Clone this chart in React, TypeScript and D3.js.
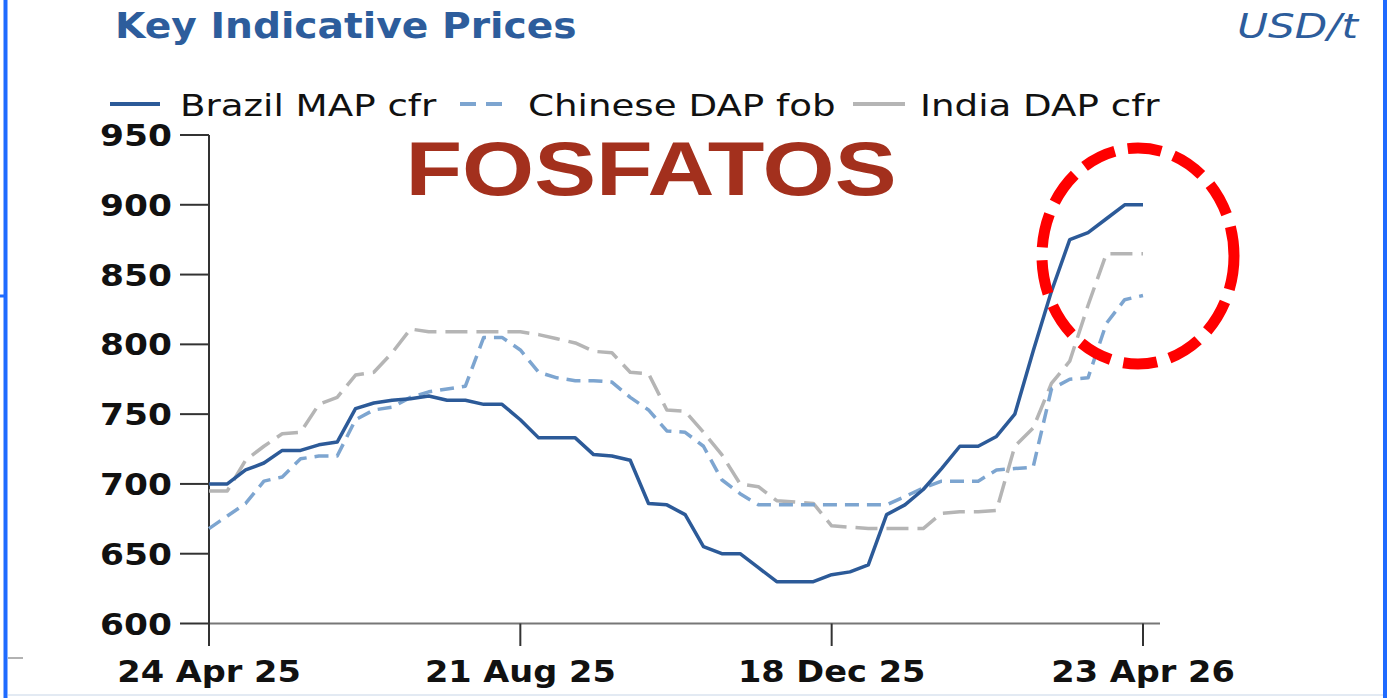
import React from "react";
import * as d3 from "d3";

const brazilMAP = [700, 700, 710, 715, 724, 724, 728, 730, 754, 758, 760, 761, 763, 760, 760, 757, 757, 746, 733, 733, 733, 721, 720, 717, 686, 685, 678, 655, 650, 650, 640, 630, 630, 630, 635, 637, 642, 678, 685, 696, 711, 727, 727, 734, 750, 795, 838, 875, 880, 890, 900, 900];
const chineseDAP = [668, 677, 686, 702, 705, 718, 720, 720, 746, 753, 755, 762, 766, 768, 770, 805, 805, 796, 780, 776, 774, 774, 773, 762, 753, 738, 737, 727, 703, 693, 685, 685, 685, 685, 685, 685, 685, 685, 691, 697, 702, 702, 702, 710, 711, 712, 768, 775, 776, 815, 832, 835];
const indiaDAP = [695, 695, 717, 727, 736, 737, 757, 762, 778, 780, 794, 811, 809, 809, 809, 809, 809, 809, 807, 804, 801, 795, 794, 780, 779, 753, 752, 737, 721, 700, 698, 688, 687, 686, 670, 669, 668, 668, 668, 668, 679, 680, 680, 681, 727, 740, 772, 788, 828, 865, 865, 865];

const xTickIndex = [0, 17, 34, 51];
const xTickLabels = ["24 Apr 25", "21 Aug 25", "18 Dec 25", "23 Apr 26"];
const yTicks = [600, 650, 700, 750, 800, 850, 900, 950];
const seriesNames = ["Brazil MAP cfr", "Chinese DAP fob", "India DAP cfr"];

const W = 1389;
const H = 698;
const FONT = "'DejaVu Sans', Verdana, sans-serif";

function SText(props: any) {
  const { x, y, sx = 1, children, ...rest } = props;
  return (
    <text transform={`translate(${x},${y}) scale(${sx},1)`} fontFamily={FONT} {...rest}>
      {children}
    </text>
  );
}

export default function App() {
  const x = d3.scaleLinear().domain([0, brazilMAP.length - 1]).range([209, 1143]);
  const y = d3.scaleLinear().domain([600, 950]).range([623.5, 135]);
  const line = d3
    .line<number>()
    .x((_, i) => x(i))
    .y((d) => y(d))
    .curve(d3.curveLinear);

  const series = [
    { name: seriesNames[2], data: indiaDAP, color: "#b5b5b5", dash: "22 9" },
    { name: seriesNames[1], data: chineseDAP, color: "#7da5d0", dash: "14 8" },
    { name: seriesNames[0], data: brazilMAP, color: "#2c5a98", dash: "" },
  ];

  const legend = [
    { name: seriesNames[0], color: "#2c5a98", dash: "", x0: 110, x1: 160, tx: 180 },
    { name: seriesNames[1], color: "#7da5d0", dash: "16 10", x0: 460, x1: 510, tx: 528 },
    { name: seriesNames[2], color: "#b5b5b5", dash: "", x0: 853, x1: 905, tx: 920 },
  ];

  return (
    <svg
      width={W}
      height={H}
      style={{ position: "absolute", left: 0, top: 0, display: "block", background: "#fff" }}
    >
      <rect x={0} y={0} width={W} height={H} fill="#fff" />
      {/* frame decorations */}
      <line x1={5.5} y1={0} x2={5.5} y2={H} stroke="#1f6bff" strokeWidth={4} />
      <line x1={1385} y1={0} x2={1385} y2={H} stroke="#1f6bff" strokeWidth={4} />
      <line x1={0} y1={296} x2={6} y2={296} stroke="#1f6bff" strokeWidth={3} />
      <line x1={8} y1={658} x2={23} y2={658} stroke="#999" strokeWidth={1.5} />
      <line x1={8} y1={695} x2={1383} y2={695} stroke="#e3eaf3" strokeWidth={2} />

      {/* title */}
      <SText x={115} y={38} sx={1.12} fontSize={35} fontWeight="bold" fill="#2d5d9c">
        Key Indicative Prices
      </SText>
      <SText x={1358} y={38} sx={1.24} fontSize={34} fontStyle="italic" fill="#2d5d9c" textAnchor="end">
        USD/t
      </SText>

      {/* legend */}
      {legend.map((l) => (
        <g key={l.name}>
          <line x1={l.x0} y1={104} x2={l.x1} y2={104} stroke={l.color} strokeWidth={4} strokeDasharray={l.dash} />
          <SText x={l.tx} y={116} sx={1.2} fontSize={31} fill="#111">
            {l.name}
          </SText>
        </g>
      ))}

      {/* FOSFATOS */}
      <text
        transform={`translate(651,195) scale(1.22,1)`}
        textAnchor="middle"
        fontFamily="'Liberation Sans', Arial, sans-serif"
        fontWeight="bold"
        fontSize={76}
        fill="#a3301d"
      >
        FOSFATOS
      </text>

      {/* axes */}
      <line x1={209} y1={y(600)} x2={1160} y2={y(600)} stroke="#777" strokeWidth={2} />
      <line x1={209} y1={y(950)} x2={209} y2={646} stroke="#333" strokeWidth={2} />
      {yTicks.map((t) => (
        <g key={t}>
          <line x1={180} y1={y(t)} x2={209} y2={y(t)} stroke="#333" strokeWidth={2} />
          <SText x={172} y={y(t) + 11} sx={1.13} fontSize={30.5} fontWeight="bold" fill="#111" textAnchor="end">
            {String(t)}
          </SText>
        </g>
      ))}
      {xTickIndex.map((t, i) => (
        <g key={t}>
          <line x1={x(t)} y1={y(600)} x2={x(t)} y2={646} stroke="#333" strokeWidth={2} />
          <SText x={x(t)} y={682} sx={1.12} fontSize={30} fontWeight="bold" fill="#111" textAnchor="middle">
            {xTickLabels[i]}
          </SText>
        </g>
      ))}

      {/* series */}
      {series.map((s) => (
        <path
          key={s.name}
          d={line(s.data) || ""}
          fill="none"
          stroke={s.color}
          strokeWidth={3.5}
          strokeDasharray={s.dash}
          strokeLinejoin="round"
        />
      ))}

      {/* red highlight ellipse */}
      <ellipse
        cx={1138}
        cy={256}
        rx={96}
        ry={108}
        fill="none"
        stroke="#ff0000"
        strokeWidth={11}
        strokeDasharray="34 13"
      />
    </svg>
  );
}
